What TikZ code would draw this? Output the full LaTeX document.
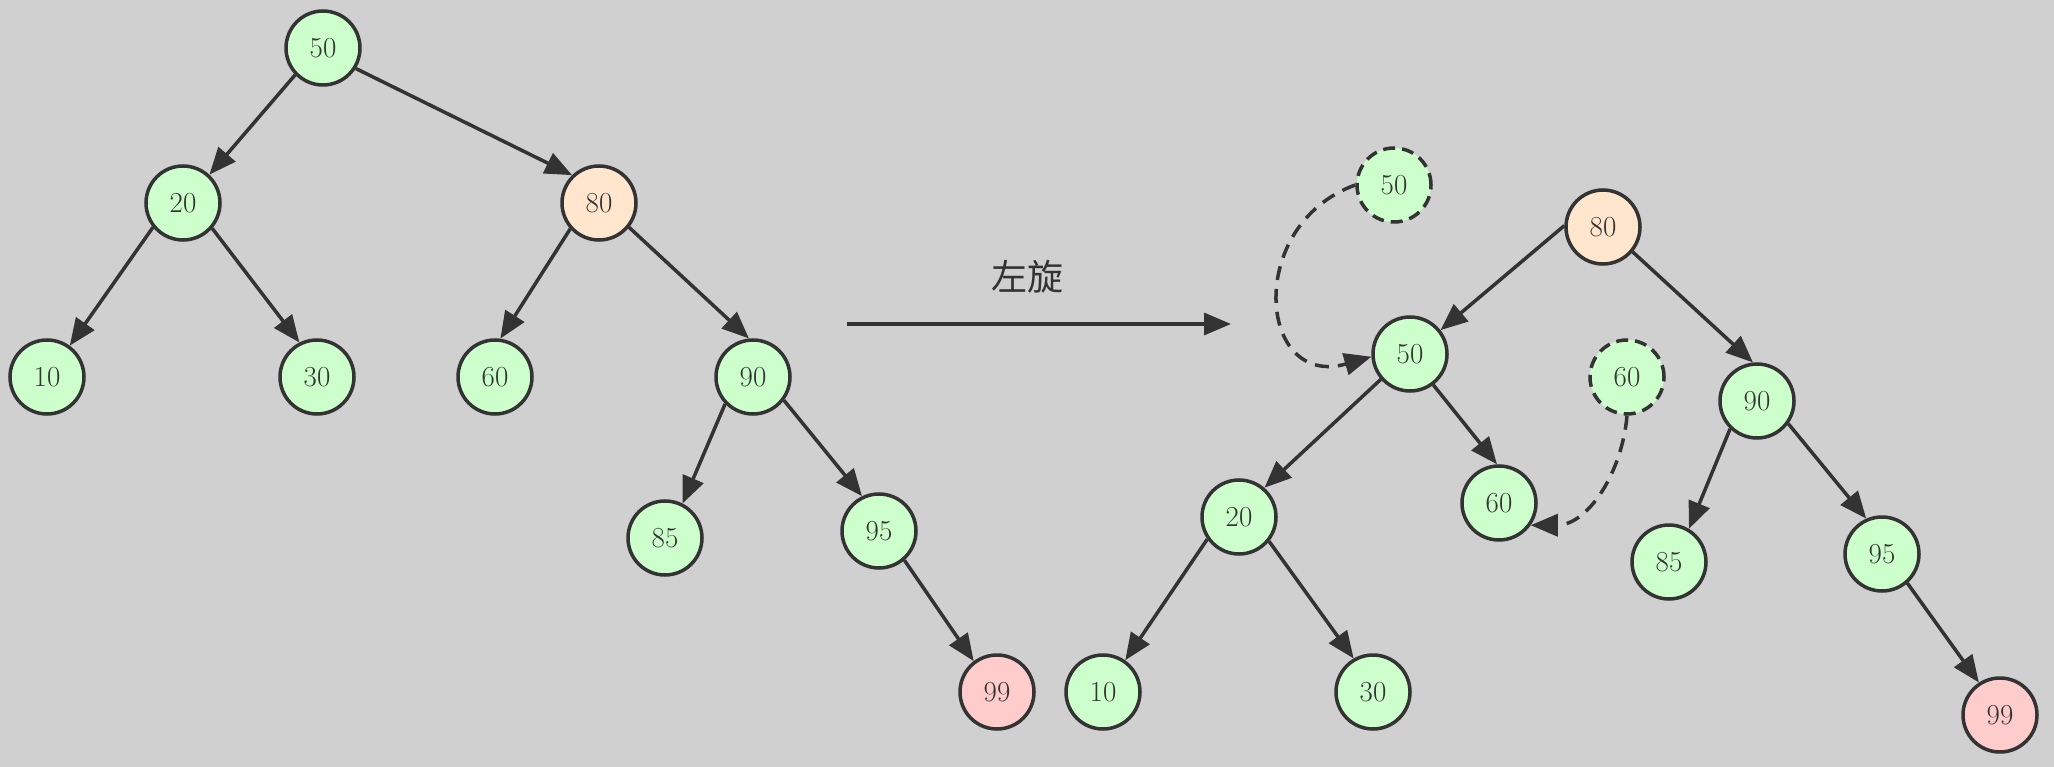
\documentclass[tikz,border=0pt]{standalone}
\usepackage{fontspec}
\newfontfamily\cjkfont{Noto Sans CJK SC}
\usetikzlibrary{arrows.meta}
\definecolor{bg}{HTML}{D0D0D0}
\definecolor{ink}{HTML}{333333}
\definecolor{gfill}{HTML}{CCFFCC}
\definecolor{ofill}{HTML}{FFE6CC}
\definecolor{rfill}{HTML}{FFCCCC}
\tikzset{
  nd/.style={circle, draw=ink, line width=3.5pt, minimum size=74pt, inner sep=0pt,
    font=\fontsize{29}{34}\selectfont, text=ink, fill=gfill},
  gn/.style={nd, fill=gfill},
  on/.style={nd, fill=ofill},
  rn/.style={nd, fill=rfill},
  dn/.style={nd, fill=gfill, dash pattern=on 12pt off 7pt},
  edge/.style={draw=ink, line width=3.5pt, -{Triangle[length=27pt,width=22pt]}},
  dedge/.style={edge, dash pattern=on 14pt off 9pt},
}
\begin{document}
\begin{tikzpicture}[x=1pt,y=-1pt]
\fill[bg] (0,0) rectangle (2054,767);
\useasboundingbox (0,0) rectangle (2054,767);
% left tree
\node[gn] (a50) at (323,48) {50};
\node[gn] (a20) at (183,203) {20};
\node[on] (a80) at (599,203) {80};
\node[gn] (a10) at (47,377) {10};
\node[gn] (a30) at (317,377) {30};
\node[gn] (a60) at (495,377) {60};
\node[gn] (a90) at (753,377) {90};
\node[gn] (a85) at (665,538) {85};
\node[gn] (a95) at (879,531) {95};
\node[rn] (a99) at (997,692) {99};
\draw[edge] (a50.224) -- (a20.47);
\draw[edge] (a50.-32) -- (a80.134);
\draw[edge] (a20.219) -- (a10.54);
\draw[edge] (a20.-41) -- (a30.117);
\draw[edge] (a80.222) -- (a60.82);
\draw[edge] (a80.-39) -- (a90.96);
\draw[edge] (a90.224) -- (a85.63);
\draw[edge] (a90.-37) -- (a95.116);
\draw[edge] (a95.-49) -- (a99.127);
% middle arrow
\coordinate (m1) at (847,324);
\coordinate (m2) at (1231,324);
\draw[edge] (m1) -- (m2);
\node[text=ink, font=\cjkfont\fontsize{36}{40}\selectfont] (lbl) at (1027,277) {左旋};
% right tree
\node[dn] (d50) at (1394,185) {50};
\node[on] (b80) at (1603,227) {80};
\node[gn] (b50) at (1410,354) {50};
\node[dn] (d60) at (1627,377) {60};
\node[gn] (b90) at (1757,401) {90};
\node[gn] (b20) at (1239,517) {20};
\node[gn] (b60) at (1499,503) {60};
\node[gn] (b85) at (1669,562) {85};
\node[gn] (b95) at (1882,554) {95};
\node[gn] (b10) at (1103,692) {10};
\node[gn] (b30) at (1373,692) {30};
\node[rn] (b99) at (2000,715) {99};
\draw[edge] (b80.178) -- (b50.38);
\draw[edge] (b80.-40) -- (b90.96);
\draw[edge] (b50.221) -- (b20.49);
\draw[edge] (b50.-53) -- (b60.93);
\draw[edge] (b20.215) -- (b10.55);
\draw[edge] (b20.-39) -- (b30.120);
\draw[edge] (b90.226) -- (b85.59);
\draw[edge] (b90.-36) -- (b95.114);
\draw[edge] (b95.-49) -- (b99.123);
\draw[dedge] (d50.180) to[out=200,in=196,looseness=1.75] (b50.184);
\draw[dedge] (d60.south) to[out=-95,in=0,looseness=1.0] (b60.-35);
\end{tikzpicture}
\end{document}
